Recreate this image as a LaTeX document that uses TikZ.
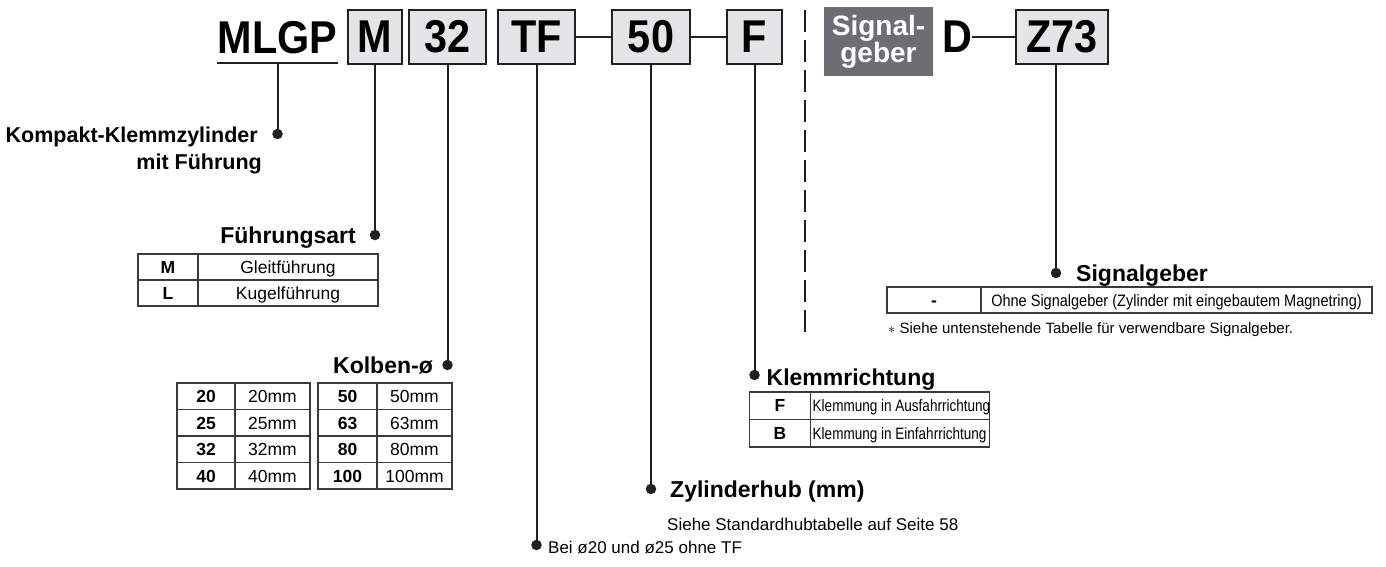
\documentclass[tikz,border=0pt]{standalone}
\usepackage{fontspec}
\setmainfont{Liberation Sans}
\newfontfamily\topf[FakeStretch=0.9]{Liberation Sans}
\newfontfamily\condA[FakeStretch=0.82]{Liberation Sans}
\newfontfamily\condB[FakeStretch=0.88]{Liberation Sans}
\definecolor{ink}{HTML}{231F20}
\definecolor{boxfill}{HTML}{E4E5E6}
\definecolor{sigfill}{HTML}{6D6E71}
\definecolor{tabline}{HTML}{3A3A3A}
\begin{document}
\begin{tikzpicture}[x=1pt,y=-1pt,
  codebox/.style={draw=ink, fill=boxfill, line width=2.3pt, minimum height=54pt, inner sep=0pt, font=\topf\bfseries\fontsize{46}{46}\selectfont},
  bigtxt/.style={inner sep=0pt, font=\topf\bfseries\fontsize{46}{46}\selectfont},
  conn/.style={draw=ink, line width=2pt},
  hconn/.style={draw=ink, line width=2.6pt},
  dotnode/.style={circle, fill=ink, inner sep=0pt, minimum size=10.5pt},
  lab/.style={inner sep=0pt, font=\bfseries\fontsize{23}{27}\selectfont},
  labs/.style={inner sep=0pt, font=\bfseries\fontsize{21.5}{26}\selectfont},
  cell/.style={inner sep=0pt, anchor=base, font=\fontsize{17.5}{20}\selectfont},
  bcell/.style={inner sep=0pt, anchor=base, font=\bfseries\fontsize{17.5}{20}\selectfont},
  ccellA/.style={inner sep=0pt, anchor=base, font=\condA\fontsize{16.5}{20}\selectfont},
  ccellB/.style={inner sep=0pt, anchor=base, font=\condB\fontsize{16.5}{20}\selectfont},
  tab/.style={draw=tabline, line width=1.3pt},
  note/.style={inner sep=0pt, font=\fontsize{17}{20}\selectfont},
]
\useasboundingbox (0,0) rectangle (1386,566);

% ---------- top row ----------
\node[bigtxt] (mlgp) at (277.5,38) {MLGP};
\coordinate (ulL) at (217,63);
\coordinate (ulR) at (338,63);
\coordinate (ulM) at (277.5,63);
\draw[conn] (ulL) -- (ulR);

\node[codebox, minimum width=54pt] (bM) at (375,37) {M};
\node[codebox, minimum width=77pt] (b32) at (447.5,37) {32};
\node[codebox, minimum width=77pt] (bTF) at (536.5,37) {TF};
\node[codebox, minimum width=78pt] (b50) at (651,37) {50};
\node[codebox, minimum width=55pt] (bF) at (754.5,37) {F};
\draw[hconn] (bTF.east) -- (b50.west);
\draw[hconn] (b50.east) -- (bF.west);

\coordinate (dashT) at (805,10);
\coordinate (dashB) at (805,333);
\draw[ink, line width=2.2pt, dash pattern=on 22pt off 8pt] (dashT) -- (dashB);

\node[fill=sigfill, minimum width=109pt, minimum height=69pt, inner sep=0pt,
      text=white, align=center, font=\bfseries\fontsize{28}{26}\selectfont] (sig) at (878.5,41.5) {Signal-\\geber};
\node[bigtxt] (D) at (957,37) {D};
\node[codebox, minimum width=92pt] (bZ) at (1062,37) {Z73};
\draw[hconn] (D.east) -- (bZ.west);

% ---------- leaders ----------
\node[dotnode] (dK) at (277.5,134) {};
\draw[conn] (ulM) -- (dK.center);
\node[dotnode] (dM) at (375,235) {};
\draw[conn] (bM.south) -- (dM.center);
\node[dotnode] (d32) at (447.5,365) {};
\draw[conn] (b32.south) -- (d32.center);
\node[dotnode] (dTF) at (536.5,545) {};
\draw[conn] (bTF.south) -- (dTF.center);
\node[dotnode] (d50) at (651,489) {};
\draw[conn] (b50.south) -- (d50.center);
\node[dotnode] (dF) at (754.5,375) {};
\draw[conn] (bF.south) -- (dF.center);
\node[dotnode] (dZ) at (1056,273) {};
\draw[conn] (dZ |- bZ.south) -- (dZ.center);

% ---------- Kompakt ----------
\node[labs, anchor=base east] (tK1) at (258,142) {Kompakt-Klemmzylinder};
\node[labs, anchor=base east] (tK2) at (262,169) {mit Führung};

% ---------- Fuehrungsart ----------
\node[lab, anchor=base east] (tM) at (356,243) {Führungsart};
\draw[tab] (138,254) rectangle (378,306);
\draw[tab] (138,280) -- (378,280);
\draw[tab] (198,254) -- (198,306);
\node[bcell] (m1) at (168,273) {M};
\node[cell] (m2) at (288,273) {Gleitführung};
\node[bcell] (m3) at (168,299) {L};
\node[cell] (m4) at (288,299) {Kugelführung};

% ---------- Kolben ----------
\node[lab, anchor=base east] (t32) at (433,373) {Kolben-ø};
\draw[tab] (177,383) rectangle (310,489);
\draw[tab] (235,383) -- (235,489);
\draw[tab] (318,383) rectangle (452,489);
\draw[tab] (377,383) -- (377,489);
\foreach \yy in {409.5,436,462.5}{
  \draw[tab] (177,\yy) -- (310,\yy);
  \draw[tab] (318,\yy) -- (452,\yy);
}
\node[bcell] (k1) at (206,402.5) {20};  \node[cell] (k2) at (272.5,402.5) {20mm};
\node[bcell] (k3) at (206,429) {25};    \node[cell] (k4) at (272.5,429) {25mm};
\node[bcell] (k5) at (206,455.5) {32};  \node[cell] (k6) at (272.5,455.5) {32mm};
\node[bcell] (k7) at (206,482) {40};    \node[cell] (k8) at (272.5,482) {40mm};
\node[bcell] (k9) at (347.5,402.5) {50};  \node[cell] (k10) at (414.5,402.5) {50mm};
\node[bcell] (k11) at (347.5,429) {63};   \node[cell] (k12) at (414.5,429) {63mm};
\node[bcell] (k13) at (347.5,455.5) {80}; \node[cell] (k14) at (414.5,455.5) {80mm};
\node[bcell] (k15) at (347.5,482) {100};  \node[cell] (k16) at (414.5,482) {100mm};

% ---------- TF ----------
\node[note, anchor=base west] (tTF) at (548,553) {Bei ø20 und ø25 ohne TF};

% ---------- Hub ----------
\node[lab, anchor=base west] (t50) at (670,497) {Zylinderhub (mm)};
\node[note, anchor=base west] (t50b) at (667,530) {Siehe Standardhubtabelle auf Seite 58};

% ---------- Klemmrichtung ----------
\node[lab, anchor=base west] (tF) at (766.5,385) {Klemmrichtung};
\draw[tab] (749.5,392) rectangle (989.5,447);
\draw[tab] (749.5,419.5) -- (989.5,419.5);
\draw[tab] (810.5,392) -- (810.5,447);
\node[bcell] (f1) at (780,411.5) {F};
\node[ccellA, anchor=base west] (f2) at (812.5,411.5) {Klemmung in Ausfahrrichtung};
\node[bcell] (f3) at (780,439) {B};
\node[ccellA, anchor=base west] (f4) at (812.5,439) {Klemmung in Einfahrrichtung};

% ---------- Signalgeber ----------
\node[lab, anchor=base west] (tZ) at (1076,281) {Signalgeber};
\draw[tab] (887,287) rectangle (1372,313);
\draw[tab] (981,287) -- (981,313);
\node[bcell] (z1) at (934,306) {-};
\node[ccellB] (z2) at (1176.5,306) {Ohne Signalgeber (Zylinder mit eingebautem Magnetring)};
\node[note, anchor=base west, font=\fontsize{15}{18}\selectfont] (zn) at (888,333) {$\ast$ Siehe untenstehende Tabelle für verwendbare Signalgeber.};
\end{tikzpicture}
\end{document}
